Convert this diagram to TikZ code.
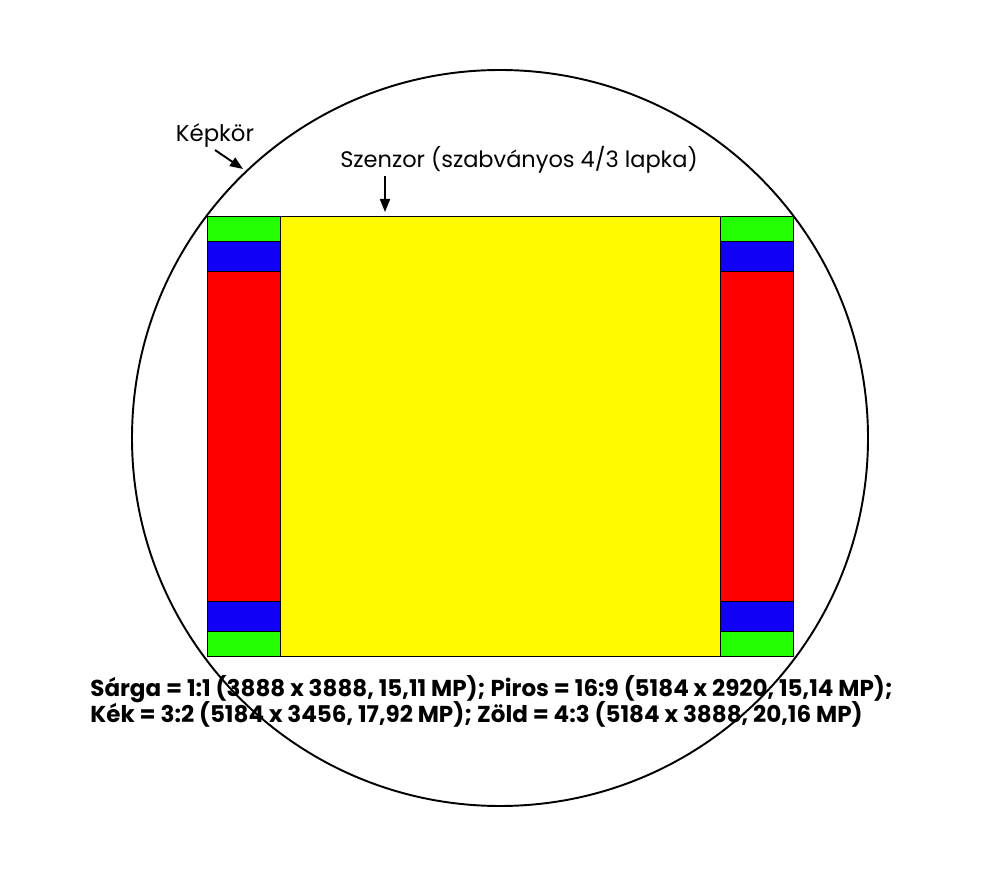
\documentclass[tikz,border=0pt]{standalone}
\usepackage{fontspec}
\setmainfont{Poppins}
\usetikzlibrary{arrows.meta}
\definecolor{zold}{RGB}{34,255,0}
\definecolor{kek}{RGB}{16,0,245}
\definecolor{piros}{RGB}{255,0,0}
\definecolor{sarga}{RGB}{255,250,0}
\begin{document}
\begin{tikzpicture}[x=0.02cm,y=-0.02cm]
    \useasboundingbox (0,0) rectangle (1000,874);

    % Sensor crops
    \draw [line width=0.5pt,fill=zold] (207,216) rectangle (793,656);
    \draw [line width=0.5pt,fill=kek] (207,241) rectangle (793,631);
    \draw [line width=0.5pt,fill=piros] (207,271) rectangle (793,601);
    \draw [line width=0.5pt,fill=sarga] (280,216) rectangle (720,656);
    \draw [line width=0.5pt] (207,241) to (280,241);
    \draw [line width=0.5pt] (720,241) to (793,241);
    \draw [line width=0.5pt] (207,631) to (280,631);
    \draw [line width=0.5pt] (720,631) to (793,631);

    % Image circle
    \coordinate (kc) at (500,438);
    \draw [line width=1.1pt] (kc) circle [radius=368];

    % Labels
    \node (kepkor) at (215,142) [anchor=base,inner sep=1pt] {\fontsize{13}{16}\selectfont Képkör};
    \coordinate (kt) at (243,169);
    \draw [line width=1.1pt,-{Triangle[length=2.6mm,width=2mm]}] (kepkor.south) to (kt);

    \node (szenzor) at (519,168) [anchor=base,inner sep=1pt] {\fontsize{12.8}{16}\selectfont Szenzor (szabványos 4/3 lapka)};
    \coordinate (st) at (385,212);
    \draw [line width=1.1pt,-{Triangle[length=2.6mm,width=2mm]}] (szenzor.south -| st) to (st);

    % Ratios
    \node (sarga) at (90,696) [anchor=base west,inner sep=0pt]
        {\fontsize{13.1}{15}\selectfont\bfseries Sárga = 1:1 (3888 x 3888, 15,11 MP); Piros = 16:9 (5184 x 2920, 15,14 MP);};
    \node (kek) at (90,722) [anchor=base west,inner sep=0pt]
        {\fontsize{13.1}{15}\selectfont\bfseries Kék = 3:2 (5184 x 3456, 17,92 MP); Zöld = 4:3 (5184 x 3888, 20,16 MP)};
\end{tikzpicture}
\end{document}
